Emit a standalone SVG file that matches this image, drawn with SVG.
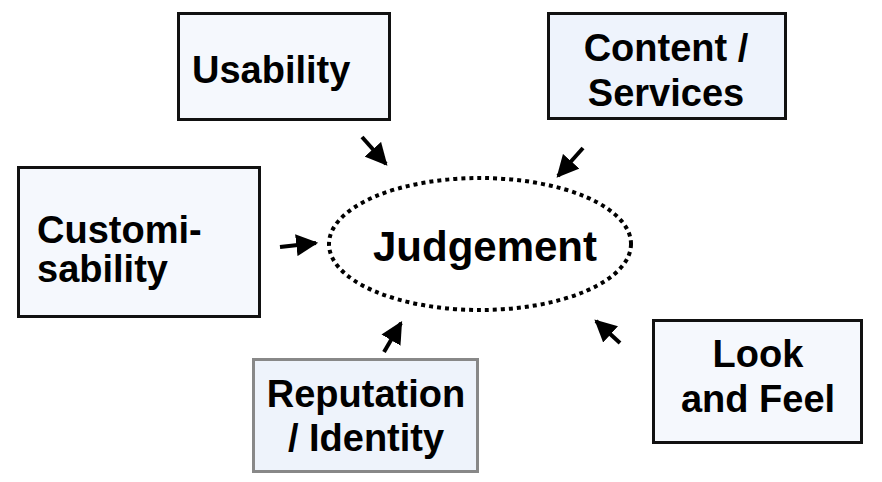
<svg xmlns="http://www.w3.org/2000/svg" width="882" height="482" viewBox="0 0 882 482">
<defs>
<style>
.box{fill:#f5f8fd;stroke:#111;stroke-width:3}
.t{font-family:"Liberation Sans",Arial,sans-serif;font-weight:bold;font-size:38px;fill:#000}
.c{text-anchor:middle}
.arr{stroke:#000;stroke-width:4;fill:none;marker-end:url(#ah)}
</style>
<marker id="ah" viewBox="0 0 10 10" refX="9" refY="5" markerWidth="5.5" markerHeight="5.5" markerUnits="strokeWidth" orient="auto">
<path d="M0,0 L10,5 L0,10 z" fill="#000"/>
</marker>
</defs>
<rect width="882" height="482" fill="#fff"/>
<g id="judgement">
<ellipse cx="480" cy="244" rx="151" ry="66" fill="none" stroke="#000" stroke-width="4" stroke-dasharray="4 4"/>
<text class="t c" x="485" y="261" style="font-size:42px">Judgement</text>
</g>
<g id="usability">
<rect class="box" x="178.5" y="13.5" width="211" height="106"/>
<text class="t" x="192" y="83">Usability</text>
</g>
<g id="content">
<rect class="box" x="548.5" y="13.5" width="237" height="105" style="fill:#eef3fc"/>
<text class="t c" x="666" y="61">Content /</text>
<text class="t c" x="666" y="106">Services</text>
</g>
<g id="customisability">
<rect class="box" x="18.5" y="167.5" width="241" height="149"/>
<text class="t" x="37" y="243">Customi-</text>
<text class="t" x="37" y="282">sability</text>
</g>
<g id="reputation">
<rect class="box" x="253.5" y="359.5" width="224" height="112" style="fill:#eef3fb;stroke:#888"/>
<text class="t c" x="366" y="407">Reputation</text>
<text class="t c" x="366" y="451">/ Identity</text>
</g>
<g id="lookfeel">
<rect class="box" x="653.5" y="320.5" width="208" height="122"/>
<text class="t c" x="758" y="367">Look</text>
<text class="t c" x="758" y="412">and Feel</text>
</g>
<g id="connectors">
<line class="arr" x1="362" y1="137" x2="386" y2="164"/>
<line class="arr" x1="583" y1="148" x2="558" y2="176"/>
<line class="arr" x1="280" y1="247" x2="316" y2="243"/>
<line class="arr" x1="384" y1="352" x2="401" y2="323"/>
<line class="arr" x1="620" y1="343" x2="596" y2="321"/>
</g>
</svg>
